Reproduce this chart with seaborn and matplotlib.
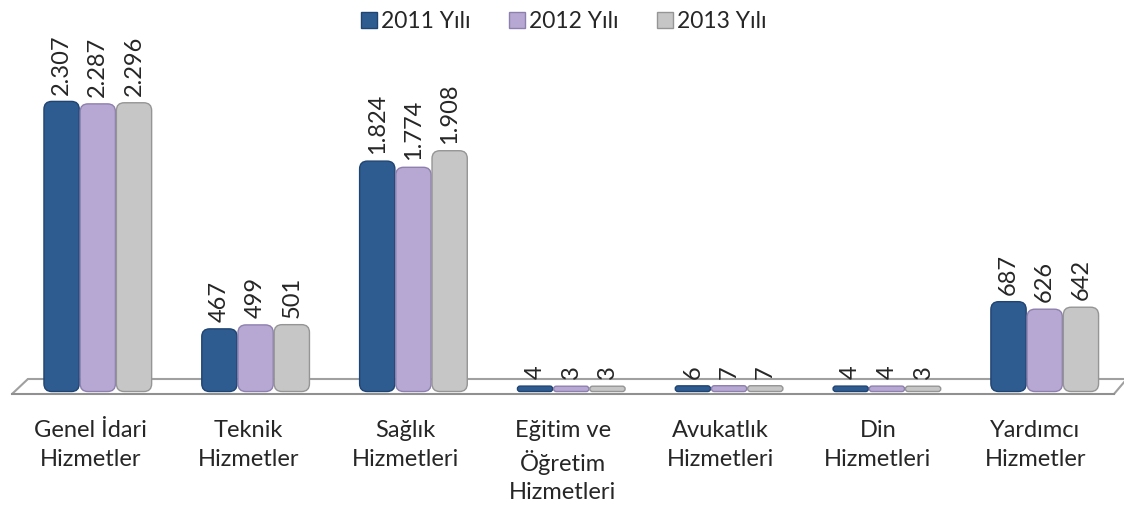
import matplotlib
matplotlib.use("Agg")
import matplotlib.pyplot as plt
from matplotlib.patches import FancyBboxPatch
from matplotlib.lines import Line2D
import seaborn as sns
import pandas as pd

categories = ["Genel İdari\nHizmetler", "Teknik\nHizmetler", "Sağlık\nHizmetleri",
              "Eğitim ve\nÖğretim\nHizmetleri", "Avukatlık\nHizmetleri",
              "Din\nHizmetleri", "Yardımcı\nHizmetler"]
years = ["2011 Yılı", "2012 Yılı", "2013 Yılı"]
v2011 = [2307, 467, 1824, 4, 6, 4, 687]
v2012 = [2287, 499, 1774, 3, 7, 4, 626]
v2013 = [2296, 501, 1908, 3, 7, 3, 642]
colors = ["#2E5C91", "#B6A8D2", "#C6C6C6"]
edges = ["#1F4472", "#8E80AE", "#959595"]

df = pd.DataFrame({
    "kategori": categories * 3,
    "yil": [y for y in years for _ in categories],
    "deger": v2011 + v2012 + v2013,
})

sns.set_style("white")
plt.rcParams["font.family"] = ["Lato", "DejaVu Sans"]

fig = plt.figure(figsize=(11.24, 5.07), dpi=100)
ax = fig.add_axes([12 / 1124, 113 / 507, 1102 / 1124, 335 / 507])

sns.barplot(data=df, x="kategori", y="deger", hue="yil", palette=colors,
            width=0.69, ax=ax, legend=False)

ymin, ymax = -60, 2650
ax.set_ylim(ymin, ymax)
ax.set_xlim(-0.5, 6.5)

# rounded bars standing on the floor
base = -40
aspect = 1270
for i, cont in enumerate(ax.containers):
    for bar, val in zip(cont, [v2011, v2012, v2013][i]):
        x = bar.get_x()
        w = bar.get_width()
        bar.set_visible(False)
        shift = 0.045 + 0.0025 * round(x + w / 2)
        h = val - base
        rs = min(0.05, h / aspect / 2)
        rb = FancyBboxPatch((x + shift + 0.003, base), w - 0.006, h,
                            boxstyle=f"round,pad=0,rounding_size={rs}",
                            mutation_aspect=aspect,
                            facecolor=colors[i], edgecolor=edges[i], linewidth=1.0,
                            zorder=3)
        ax.add_patch(rb)
        ax.text(x + shift + w / 2, val + 55, f"{val:,}".replace(",", "."),
                rotation=90, ha="center", va="bottom", fontsize=17, zorder=4)

# floor (3d look)
back = 60
fc = "#A0A0A0"
ax.plot([-0.5, -0.5 + 0.1], [ymin, back], color=fc, lw=1.5, clip_on=False, zorder=1)
ax.plot([-0.5 + 0.1, 6.58], [back, back], color=fc, lw=1.5, clip_on=False, zorder=1)
ax.plot([6.58, 6.5], [back, ymin], color=fc, lw=1.5, clip_on=False, zorder=1)

ax.set_xticks(range(len(categories)))
ax.set_xticklabels(categories, fontsize=17, linespacing=1.42)
ax.set_xticks([k - 0.5 for k in range(len(categories) + 1)], minor=True)
ax.tick_params(axis="x", which="major", length=0, pad=19)
ax.tick_params(axis="x", which="minor", length=8, width=1.5, color="#909090", direction="out")
ax.set_yticks([])
ax.set_xlabel("")
ax.set_ylabel("")
for s in ["top", "right", "left"]:
    ax.spines[s].set_visible(False)
ax.spines["bottom"].set_color("#909090")
ax.spines["bottom"].set_linewidth(1.5)

handles = [Line2D([], [], marker="s", linestyle="", markersize=12,
                  markerfacecolor=c, markeredgecolor=e) for c, e in zip(colors, edges)]
fig.legend(handles, years, loc="upper center", bbox_to_anchor=(0.5, 1.018), ncol=3,
           frameon=False, fontsize=16.5, handletextpad=0.05, columnspacing=1.5,
           handlelength=1.0)

fig.savefig("out.png", dpi=100)
